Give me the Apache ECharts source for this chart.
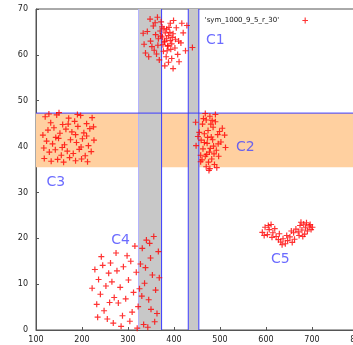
<!DOCTYPE html>
<html>
<head>
<meta charset="utf-8">
<script src="https://cdn.jsdelivr.net/npm/echarts@6/dist/echarts.min.js"></script>
<style>html,body{margin:0;padding:0;background:#fff;}#c{width:353px;height:345px;}</style>
</head>
<body>
<div id="c"></div>
<script>
const seriesName = "'sym_1000_9_5_r_30'";
const c1 = [[384,63.5],[388,64.2],[379,62.8],[392,63.1],[381,64.8],[375,63.9],[395,62.4],[386,61.9],[370,65.2],[398,64.6],
[365,62.1],[402,61.5],[389,66.0],[377,60.8],[360,64.4],[410,63.0],[383,59.6],[355,66.3],[372,67.2],[405,65.9],
[349,63.0],[395,59.2],[362,60.2],[415,62.6],[342,65.1],[388,58.4],[420,64.8],[357,61.0],[399,67.5],[368,58.9],
[335,62.3],[425,60.9],[348,67.8],[380,57.6],[411,58.5],[333,64.7],[392,66.9],[374,66.1],[364,68.2],[387,62.0],
[380,63.0],[391,64.9],[376,62.2],[384,65.6],[396,63.8],[371,64.1],[385,60.9],[403,63.4],[359,67.0],[428,66.4],
[440,61.6],[345,59.6],[398,57.0],[366,63.5],[417,66.9],[352,61.8],[408,60.1],[338,60.4],[393,61.2],[378,65.7]];
const c2 = [[470,45.8],[478,46.6],[462,44.9],[485,44.2],[474,43.5],[490,45.4],[466,42.8],[481,42.1],[459,41.4],[495,42.6],
[472,40.7],[486,40.1],[463,39.5],[477,38.8],[492,39.2],[468,37.9],[482,37.3],[475,36.6],[488,36.1],[470,35.6],
[497,37.9],[458,38.1],[502,41.0],[455,43.1],[480,44.9],[468,47.2],[505,44.0],[448,40.2],[493,35.4],[476,34.8],
[484,41.5],[464,46.1],[499,43.3],[452,42.2],[487,38.4],[473,42.0],[479,39.6],[466,40.9],[490,47.0],[512,39.8],
[458,36.7],[483,45.7],[447,45.3],[510,42.5],[471,38.3],[496,40.6],[461,37.1],[478,35.2]];
const c3 = [[120,46.5],[132,45.2],[145,46.9],[158,44.8],[171,46.2],[184,45.5],[197,46.8],[210,45.0],[222,46.3],[126,43.6],
[139,44.1],[152,42.9],[165,43.8],[178,43.2],[191,44.4],[204,43.0],[217,43.9],[123,41.2],[136,40.6],[149,41.8],
[162,40.4],[175,41.5],[188,40.9],[201,41.7],[214,40.2],[226,41.4],[129,38.8],[142,39.3],[155,38.1],[168,39.0],
[181,38.5],[194,39.4],[207,38.0],[220,38.9],[118,37.4],[133,36.8],[147,37.2],[160,36.6],[173,37.6],[186,36.9],
[199,37.3],[212,36.7],[128,47.1],[150,47.4],[190,47.0],[115,42.5],[225,44.3],[143,42.0],[186,42.6],[170,44.9],
[157,39.8],[198,39.9],[210,42.3],[117,39.7]];
const c4 = [[228,13.2],[236,11.0],[245,14.1],[252,9.6],[240,7.8],[258,12.4],[265,10.5],[232,5.6],[248,4.2],[270,7.1],
[262,14.6],[276,12.9],[283,9.3],[290,13.8],[279,5.9],[295,6.8],[288,3.1],[255,2.4],[268,1.5],[301,10.9],
[306,15.0],[312,8.2],[318,12.6],[309,3.9],[322,5.1],[327,14.4],[331,17.8],[336,10.2],[340,19.6],[345,6.6],
[349,15.7],[353,12.0],[356,20.4],[360,8.7],[363,3.6],[366,17.1],[334,1.2],[343,0.6],[358,1.8],[325,9.0],
[315,18.3],[298,16.2],[274,16.8],[242,16.0],[260,6.0],[285,0.8],[304,1.9],[338,13.6],[350,4.5],[368,11.4],
[222,9.1],[234,2.8],[330,7.4],[347,18.9],[320,0.4]];
const c5 = [[592,21.3],[598,22.4],[603,20.8],[607,21.9],[611,23.0],[615,21.2],[619,22.1],[605,22.8],[596,20.6],[613,20.2],
[622,20.4],[627,19.7],[632,19.2],[637,19.9],[642,18.8],[647,19.5],[652,20.3],[657,19.1],[645,20.6],[635,18.6],
[660,21.2],[665,22.0],[670,21.4],[674,22.8],[678,21.8],[682,23.1],[686,22.3],[690,21.6],[694,22.7],[698,21.9],
[676,23.5],[688,23.4],[672,20.6],[684,20.9],[696,23.0],[701,22.4],[662,19.8],[629,21.0],[655,21.6],[680,20.4]];
const clusterNames = ['C1','C2','C3','C4','C5'];
const clusterLabelPos = [[490,63.2],[555,39.9],[143,32.1],[284,19.6],[631,15.3]];
const hBand = [35.5, 47.3];
const vBands = [[323,373],[431,454]];
const vLines = [373,431,454];
const vLineLight = [323];
const hLines = [47.3];
const xRange = [100, 800];
const yRange = [0, 70];

const plus = 'path://M0,2.6h6v1.2h-6z M2.4,0h1.2v6.4h-1.2z';
const blue = '#3c3cff';
const chart = echarts.init(document.getElementById('c'));
const allPts = [].concat(c1, c2, c3, c4, c5);
const areas = [[{yAxis:hBand[0], itemStyle:{color:'#ffd0a0'}},{yAxis:hBand[1]}]]
  .concat(vBands.map(b => [{xAxis:b[0], itemStyle:{color:'#c8c8c8'}},{xAxis:b[1]}]));
function lineSeries(pts, color) {
  return {type:'line', data:pts, symbol:'none', silent:true, z:2, animation:false,
    lineStyle:{color:color, width:1}, itemStyle:{color:color}};
}
const lineSeriesList = vLines.map(v => lineSeries([[v,yRange[0]],[v,yRange[1]]], blue))
  .concat(vLineLight.map(v => lineSeries([[v,yRange[0]],[v,yRange[1]]], '#b0b0ff')))
  .concat(hLines.map(v => lineSeries([[xRange[0],v],[xRange[1],v]], blue)));
chart.setOption({
  animation:false,
  grid:{left:36, top:9, bottom:15, right:-5, show:true, borderColor:'#555', borderWidth:1, outerBoundsMode:'none', containLabel:false},
  xAxis:{type:'value', min:xRange[0], max:xRange[1], interval:100, splitLine:{show:false},
    axisLine:{lineStyle:{color:'#555'}}, axisTick:{inside:true, length:3, lineStyle:{color:'#555'}},
    axisLabel:{fontSize:8, color:'#222', margin:6, fontFamily:'DejaVu Sans'}},
  yAxis:{type:'value', min:yRange[0], max:yRange[1], interval:10, splitLine:{show:false},
    axisLine:{lineStyle:{color:'#555'}}, axisTick:{inside:true, length:3, lineStyle:{color:'#555'}},
    axisLabel:{fontSize:8, color:'#222', margin:8, fontFamily:'DejaVu Sans'}},
  legend:{data:[{name:seriesName, icon:plus}], top:12, right:40, align:'right', itemWidth:6, itemHeight:6,
    textStyle:{fontSize:7, color:'#111', padding:[0,18,0,0], fontFamily:'DejaVu Sans'}},
  series:[
    {type:'scatter', name:'areas', data:[], z:1, silent:true,
      markArea:{silent:true, data:areas}}
  ].concat(lineSeriesList).concat([
    {type:'scatter', name:seriesName, data:allPts, symbol:plus, symbolSize:6, z:3,
      itemStyle:{color:'#ff0000'}},
    {type:'scatter', name:'labels', z:4, symbolSize:0, silent:true,
      data:clusterNames.map((n,i)=>({name:n, value:clusterLabelPos[i]})),
      label:{show:true, formatter:'{b}', position:'inside', color:'#4646ff', fontSize:14, fontFamily:'DejaVu Sans'}}
  ])
});
</script>
</body>
</html>
